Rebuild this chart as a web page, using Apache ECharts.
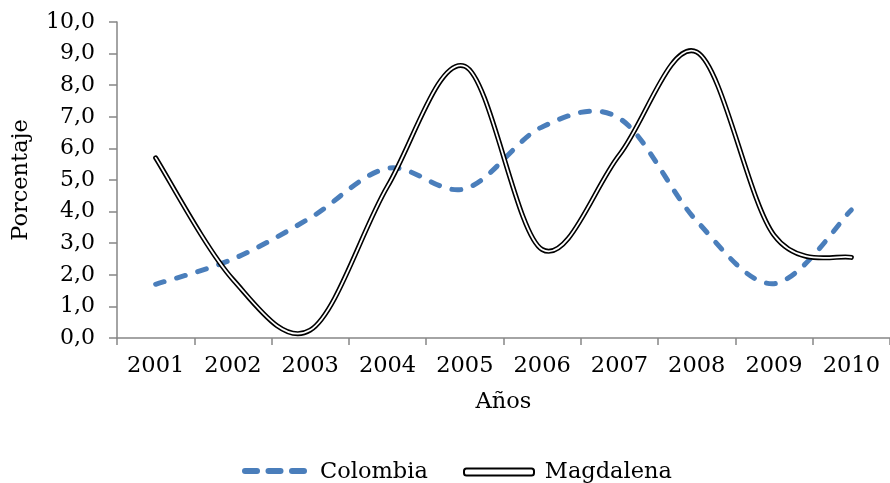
<!DOCTYPE html>
<html><head><meta charset="utf-8">
<script src="https://cdn.jsdelivr.net/npm/echarts@6/dist/echarts.min.js"></script>
<style>html,body{margin:0;padding:0;background:#fff}#c{width:890px;height:483px}</style>
</head><body><div id="c"></div>
<script>
const years = ['2001','2002','2003','2004','2005','2006','2007','2008','2009','2010'];
const colombia = [1.7, 2.5, 3.8, 5.37, 4.72, 6.68, 6.95, 3.7, 1.72, 4.05];
const magdalena = [5.7, 1.85, 0.25, 4.8, 8.6, 2.8, 5.8, 9.05, 3.25, 2.55];
const FONT = 'DejaVu Serif';

// Excel-like smoothed curve (cardinal spline, tension 1/6) through points located by the axes
function splinePath(api, n) {
  const pts = [];
  for (let i = 0; i < n; i++) pts.push(api.coord([api.value(0, i), api.value(1, i)]));
  let d = 'M' + pts[0][0] + ',' + pts[0][1];
  for (let i = 0; i < n - 1; i++) {
    const p0 = pts[Math.max(i - 1, 0)], p1 = pts[i], p2 = pts[i + 1], p3 = pts[Math.min(i + 2, n - 1)];
    const c1 = [p1[0] + (p2[0] - p0[0]) / 6, p1[1] + (p2[1] - p0[1]) / 6];
    const c2 = [p2[0] - (p3[0] - p1[0]) / 6, p2[1] - (p3[1] - p1[1]) / 6];
    d += ' C' + c1[0] + ',' + c1[1] + ' ' + c2[0] + ',' + c2[1] + ' ' + p2[0] + ',' + p2[1];
  }
  return d;
}

const chart = echarts.init(document.getElementById('c'), null, {renderer:'canvas'});
chart.setOption({
  animation: false,
  backgroundColor: '#fff',
  grid: {left: 117, top: 22, width: 780, height: 316, containLabel: false},
  legend: {
    top: 461, left: 241, padding: 0, itemWidth: 68, itemHeight: 14, itemGap: 38,
    textStyle: {fontFamily: FONT, fontSize: 22.5, color: '#000', padding: [0, 0, 0, 6]},
    data: [
      {name: 'Colombia', icon: 'rect', itemStyle: {color: 'rgba(0,0,0,0)', borderWidth: 0}},
      {name: 'Magdalena', icon: 'rect', itemStyle: {color: 'rgba(0,0,0,0)', borderWidth: 0}}
    ]
  },
  // legend key swatches (dashed line / double line samples)
  graphic: [
    {type: 'rect', left: 242, top: 468, shape: {width: 18, height: 6, r: 3}, style: {fill: '#4a7ebb'}, silent: true},
    {type: 'rect', left: 265.5, top: 468, shape: {width: 18, height: 6, r: 3}, style: {fill: '#4a7ebb'}, silent: true},
    {type: 'rect', left: 289, top: 468, shape: {width: 18, height: 6, r: 3}, style: {fill: '#4a7ebb'}, silent: true},
    {type: 'rect', left: 463, top: 467.5, shape: {width: 70, height: 7, r: 2.5},
     style: {fill: '#fff', stroke: '#000', lineWidth: 2}, silent: true}
  ],
  xAxis: {
    type: 'category', data: years, boundaryGap: true,
    name: 'Años', nameLocation: 'middle', nameGap: 53,
    nameTextStyle: {fontFamily: FONT, fontSize: 22.5, color: '#000'},
    axisLine: {lineStyle: {color: '#868686', width: 1.5}},
    axisTick: {show: true, length: 7, lineStyle: {color: '#868686', width: 1.5}},
    axisLabel: {fontFamily: FONT, fontSize: 22.5, color: '#000', margin: 17, interval: 0},
    splitLine: {show: false}
  },
  yAxis: {
    type: 'value', min: 0, max: 10, interval: 1,
    name: 'Porcentaje', nameLocation: 'middle', nameGap: 84, nameRotate: 90,
    nameTextStyle: {fontFamily: FONT, fontSize: 22.5, color: '#000'},
    axisLine: {show: true, lineStyle: {color: '#868686', width: 1.5}},
    axisTick: {show: true, length: 8, lineStyle: {color: '#868686', width: 1.5}},
    axisLabel: {fontFamily: FONT, fontSize: 22, color: '#000', margin: 22,
      formatter: v => v.toFixed(1).replace('.', ',')},
    splitLine: {show: false}
  },
  series: [
    {name: 'Colombia', type: 'custom', z: 3, clip: false,
     itemStyle: {color: '#4a7ebb'},
     data: colombia.map((v, i) => [i, v]),
     renderItem: (params, api) => {
       if (params.dataIndexInside !== 0) return null;
       return {type: 'path', shape: {pathData: splinePath(api, params.dataInsideLength)},
         style: {fill: 'none', stroke: '#4a7ebb', lineWidth: 5, lineDash: [9, 13], lineCap: 'round'}};
     }},
    {name: 'Magdalena', type: 'custom', z: 4, clip: false,
     itemStyle: {color: '#000'},
     data: magdalena.map((v, i) => [i, v]),
     renderItem: (params, api) => {
       if (params.dataIndexInside !== 0) return null;
       const d = splinePath(api, params.dataInsideLength);
       return {type: 'group', children: [
         {type: 'path', shape: {pathData: d},
          style: {fill: 'none', stroke: '#000', lineWidth: 5, lineCap: 'round', lineJoin: 'round'}},
         {type: 'path', shape: {pathData: d},
          style: {fill: 'none', stroke: '#fff', lineWidth: 1.8, lineCap: 'round', lineJoin: 'round'}}
       ]};
     }}
  ]
});
</script></body></html>
